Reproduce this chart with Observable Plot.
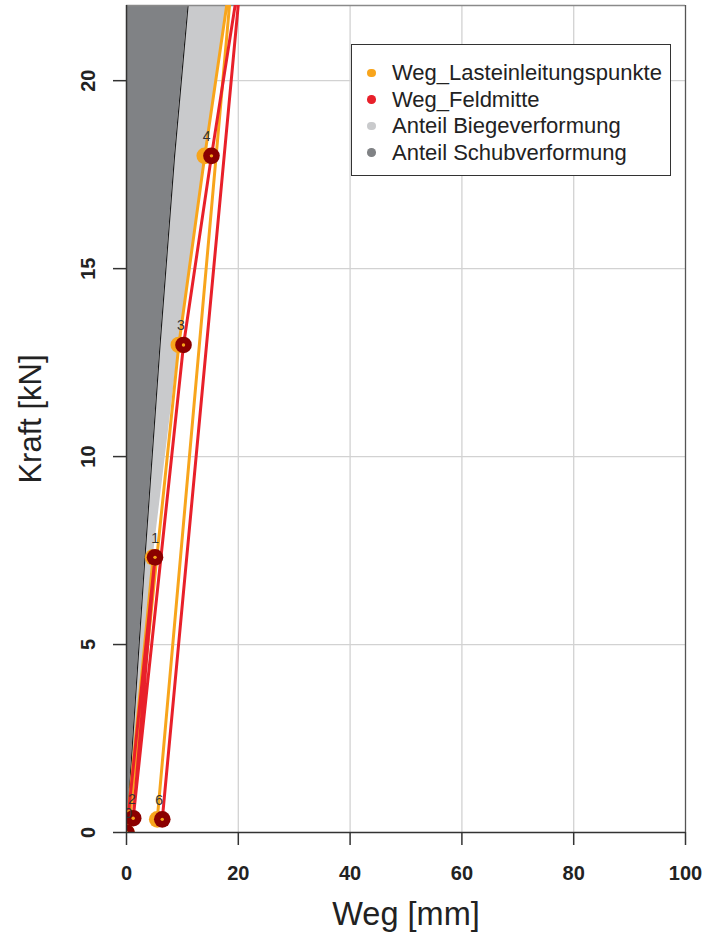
<!DOCTYPE html>
<html>
<head>
<meta charset="utf-8">
<script src="https://cdn.jsdelivr.net/npm/d3@7"></script>
<script src="https://cdn.jsdelivr.net/npm/@observablehq/plot@0.6"></script>
<style>
  html, body { margin: 0; padding: 0; background: #fff; }
  #wrap { position: relative; width: 707px; height: 936px; font-family: "Liberation Sans", Arial, sans-serif; }
  #legend { position: absolute; left: 351px; top: 44px; width: 318px; height: 130px; border: 1.6px solid #333; background: #fff; }
  .row { position: absolute; left: 0; height: 27px; width: 100%; }
  .dot { position: absolute; left: 15px; top: 9.5px; width: 8.5px; height: 8.5px; border-radius: 50%; }
  .lab { position: absolute; left: 40px; top: 0; font-size: 22px; line-height: 27px; color: #222; white-space: nowrap; }
</style>
</head>
<body>
<div id="wrap"></div>
<script>
// ---- data ----
const steps      = ["0", "1", "2", "3", "4", "5", "6"];
const kraft      = [0, 7.32, 0.38, 12.97, 18.0, 23.3, 0.35];     // kN
const wegLast    = [0, 4.76, 0.6, 9.36, 14.0, 19.2, 5.5];        // mm, Weg_Lasteinleitungspunkte
const wegFeld    = [0, 5.1, 1.2, 10.2, 15.2, 20.8, 6.4];         // mm, Weg_Feldmitte

// deformation shares along the loading envelope
const envKraft    = [0, 7.32, 12.97, 18.0, 23.3];
const anteilSchub = [0, 3.3, 6.0, 8.6, 11.8];
const anteilBiege = [0, 1.46, 3.36, 5.4, 7.4];

const xTicks = [0, 20, 40, 60, 80, 100];
const yTicks = [0, 5, 10, 15, 20];
const xGrid = [20, 40, 60, 80];
const yGrid = [5, 10, 15, 20];
const yMax = 22;

const legendItems = ["Weg_Lasteinleitungspunkte", "Weg_Feldmitte", "Anteil Biegeverformung", "Anteil Schubverformung"];
const legendColors = ["#F8A51C", "#E8202A", "#C9CACC", "#808285"];

// ---- tables ----
const pts = steps.map((s, i) => ({step: s, kraft: kraft[i], last: wegLast[i], feld: wegFeld[i]}));
const env = envKraft.map((k, i) => ({kraft: k, schub: anteilSchub[i], total: anteilSchub[i] + anteilBiege[i]}));
const visiblePts = pts.filter(d => d.kraft <= yMax);

const FONT = "Liberation Sans, Arial, sans-serif";

const chart = Plot.plot({
  width: 707,
  height: 936,
  marginTop: 5,
  marginRight: 22,
  marginBottom: 104,
  marginLeft: 126,
  style: {fontFamily: FONT, background: "#fff", overflow: "visible"},
  x: {domain: [0, 100], axis: null},
  y: {domain: [0, yMax], axis: null},
  marks: [
    // grid
    Plot.ruleX(xGrid, {x: d => d, stroke: "#d2d2d2", strokeWidth: 1.3}),
    Plot.ruleY(yGrid, {y: d => d, stroke: "#d2d2d2", strokeWidth: 1.3}),
    // deformation shares
    Plot.areaX(env, {y: "kraft", x1: 0, x2: "schub", fill: legendColors[3], curve: "linear", clip: true}),
    Plot.areaX(env, {y: "kraft", x1: "schub", x2: "total", fill: legendColors[2], curve: "linear", clip: true}),
    Plot.line(env, {x: "schub", y: "kraft", stroke: "#1a1a1a", strokeWidth: 1.1, clip: true}),
    // frame top / right
    Plot.ruleY([yMax], {y: d => d, stroke: "#8a8a8a", strokeWidth: 1.3}),
    Plot.ruleX([100], {x: d => d, stroke: "#555", strokeWidth: 1.3}),
    // paths
    Plot.line(pts, {x: "last", y: "kraft", stroke: legendColors[0], strokeWidth: 3, clip: true}),
    Plot.line(pts, {x: "feld", y: "kraft", stroke: legendColors[1], strokeWidth: 3, clip: true}),
    // points
    Plot.dot(pts, {x: "last", y: "kraft", r: 8.3, fill: legendColors[0], stroke: "none", clip: true}),
    Plot.dot(pts, {x: "feld", y: "kraft", r: 8.3, fill: "#8B0000", stroke: "none", clip: true}),
    Plot.dot(pts, {x: "feld", y: "kraft", r: 1.7, fill: legendColors[0], stroke: "none", clip: true}),
    // step labels (only those inside the panel)
    Plot.text(visiblePts, {x: "last", y: "kraft", text: "step", dx: 2, dy: -19, fontSize: 14, fill: "#333", clip: true}),
    // axis lines
    Plot.ruleX([0], {x: d => d, stroke: "#333", strokeWidth: 1.5}),
    Plot.ruleY([0], {y: d => d, stroke: "#333", strokeWidth: 1.5}),
    // ticks
    Plot.axisX({ticks: xTicks, tickSize: 13, tickFormat: () => "", label: null, stroke: "#333", strokeWidth: 1.5}),
    Plot.axisY({ticks: yTicks, tickSize: 13, tickFormat: () => "", label: null, stroke: "#333", strokeWidth: 1.5}),
    // tick labels
    Plot.text(xTicks, {x: d => d, text: d => String(d), frameAnchor: "bottom", dy: 41, lineAnchor: "middle",
      fontSize: 20, fontWeight: "bold", fill: "#222"}),
    Plot.text(yTicks, {y: d => d, text: d => String(d), frameAnchor: "left", dx: -38, rotate: -90,
      textAnchor: "middle", lineAnchor: "middle", fontSize: 20, fontWeight: "bold", fill: "#222"}),
    // axis titles
    Plot.text(["Weg [mm]"], {text: d => d, frameAnchor: "bottom", dy: 82, lineAnchor: "middle",
      fontSize: 32.5, fill: "#222"}),
    Plot.text(["Kraft [kN]"], {text: d => d, frameAnchor: "left", dx: -95, rotate: -90,
      textAnchor: "middle", lineAnchor: "middle", fontSize: 31, fill: "#222"})
  ]
});

const wrap = document.getElementById("wrap");
wrap.appendChild(chart);

// legend overlay
const legend = document.createElement("div");
legend.id = "legend";
legendItems.forEach((name, i) => {
  const row = document.createElement("div");
  row.className = "row";
  row.style.top = (14 + i * 26.5) + "px";
  const dot = document.createElement("span");
  dot.className = "dot";
  dot.style.background = legendColors[i];
  const lab = document.createElement("span");
  lab.className = "lab";
  lab.textContent = name;
  row.appendChild(dot);
  row.appendChild(lab);
  legend.appendChild(row);
});
wrap.appendChild(legend);
</script>
</body>
</html>
